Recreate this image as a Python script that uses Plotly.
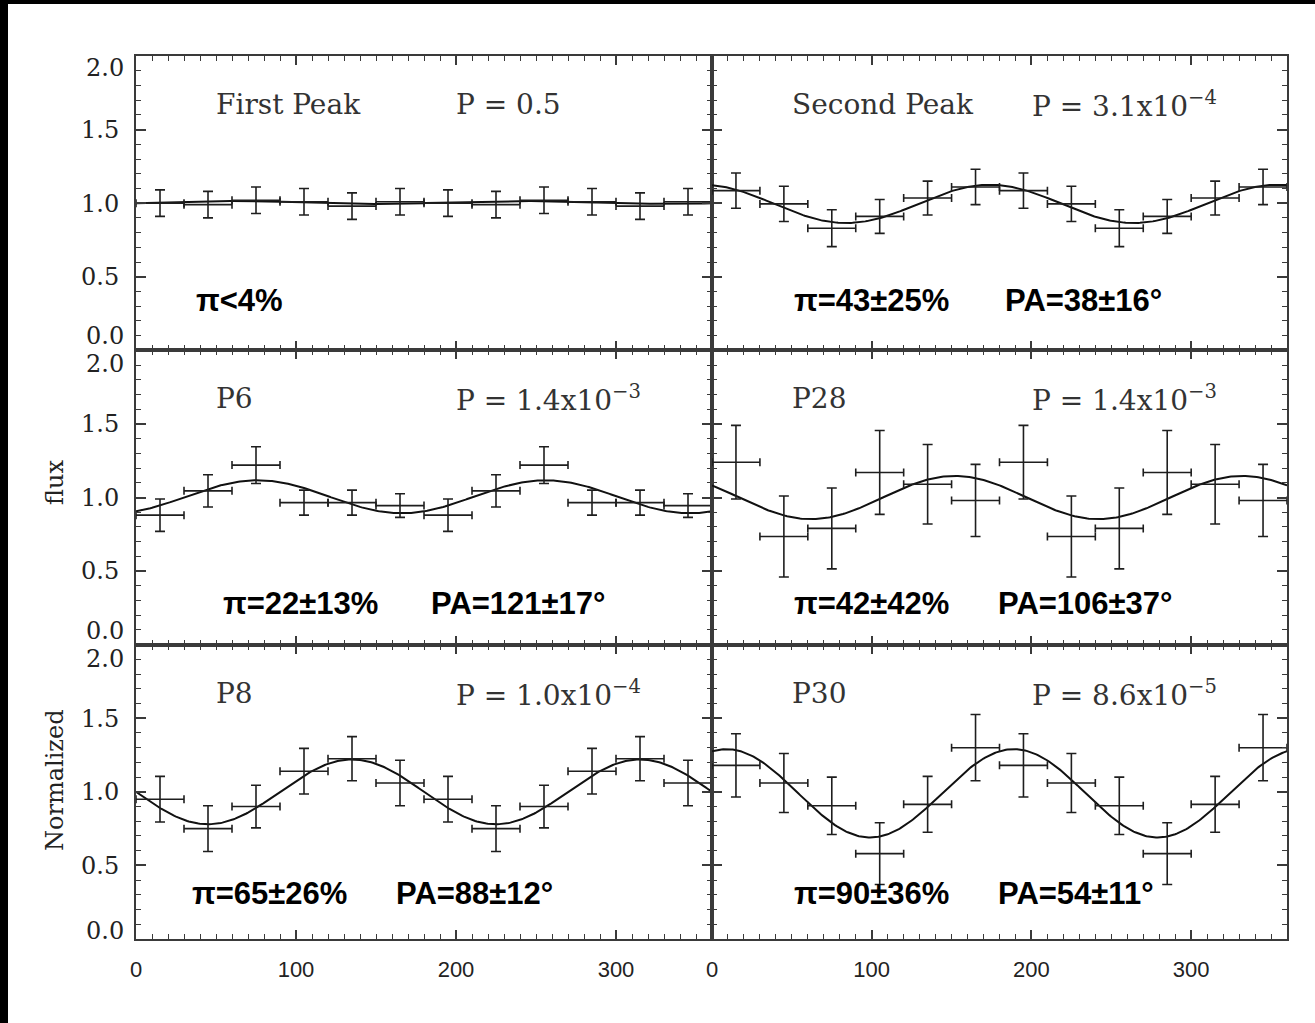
import plotly.graph_objects as go
import numpy as np

# ---------------- data ----------------
phase = [15, 45, 75, 105, 135, 165, 195, 225, 255, 285, 315, 345]
phase_err = [15, 15, 15, 15, 15, 15, 15, 15, 15, 15, 15, 15]

first_flux = [1.00, 0.99, 1.02, 1.01, 0.98, 1.01, 1.00, 0.99, 1.02, 1.01, 0.98, 1.01]
first_err = [0.09, 0.09, 0.09, 0.09, 0.09, 0.09, 0.09, 0.09, 0.09, 0.09, 0.09, 0.09]

second_flux = [1.085, 0.995, 0.83, 0.91, 1.035, 1.11, 1.085, 0.995, 0.83, 0.91, 1.035, 1.11]
second_err = [0.12, 0.12, 0.125, 0.115, 0.115, 0.12, 0.12, 0.12, 0.125, 0.115, 0.115, 0.12]

p6_flux = [0.88, 1.045, 1.22, 0.965, 0.965, 0.945, 0.88, 1.045, 1.22, 0.965, 0.965, 0.945]
p6_err = [0.11, 0.11, 0.125, 0.085, 0.085, 0.08, 0.11, 0.11, 0.125, 0.085, 0.085, 0.08]

p28_flux = [1.24, 0.735, 0.79, 1.17, 1.09, 0.98, 1.24, 0.735, 0.79, 1.17, 1.09, 0.98]
p28_err = [0.25, 0.275, 0.275, 0.285, 0.27, 0.245, 0.25, 0.275, 0.275, 0.285, 0.27, 0.245]

p8_flux = [0.95, 0.75, 0.90, 1.14, 1.225, 1.06, 0.95, 0.75, 0.90, 1.14, 1.225, 1.06]
p8_err = [0.155, 0.155, 0.145, 0.155, 0.15, 0.155, 0.155, 0.155, 0.145, 0.155, 0.15, 0.155]

p30_flux = [1.18, 1.06, 0.905, 0.58, 0.915, 1.30, 1.18, 1.06, 0.905, 0.58, 0.915, 1.30]
p30_err = [0.215, 0.20, 0.195, 0.21, 0.19, 0.225, 0.215, 0.20, 0.195, 0.21, 0.19, 0.225]

# fitted modulation: mean, amplitude, angle of maximum (deg)
fit_mean = [1.005, 0.995, 1.005, 1.0, 1.0, 0.99]
fit_amp = [0.01, 0.13, 0.112, 0.147, 0.22, 0.30]
fit_peak = [60, 174, 76, 152, 135, 189]

panel_names = ["First Peak", "Second Peak", "P6", "P28", "P8", "P30"]
panel_prob = ["P = 0.5", "P = 3.1x10<sup>−4</sup>", "P = 1.4x10<sup>−3</sup>",
              "P = 1.4x10<sup>−3</sup>", "P = 1.0x10<sup>−4</sup>", "P = 8.6x10<sup>−5</sup>"]
panel_pol = ["π<4%", "π=43±25%", "π=22±13%", "π=42±42%", "π=65±26%", "π=90±36%"]
panel_pa = ["", "PA=38±16°", "PA=121±17°", "PA=106±37°", "PA=88±12°", "PA=54±11°"]

fluxes = [first_flux, second_flux, p6_flux, p28_flux, p8_flux, p30_flux]
errs = [first_err, second_err, p6_err, p28_err, p8_err, p30_err]

xtick_vals = [0, 100, 200, 300]
xtick_text = ["0", "100", "200", "300"]
ytick_vals = [0.0, 0.5, 1.0, 1.5, 2.0]
ytick_text = ["0.0", "0.5", "1.0", "1.5", "2.0"]

# ---------------- layout geometry ----------------
W, H = 1315, 1023
L, R, T, B = 136, 28, 56, 84
pw = W - L - R
ph = H - T - B
xsplit = 576 / pw
col_dom = [[0, xsplit], [xsplit, 1]]
row_dom = [[2 / 3, 1], [1 / 3, 2 / 3], [0, 1 / 3]]

AX = "#3a3a3a"
SERIF = "DejaVu Serif"
BAR = "#1e1e1e"
YFONT = dict(family=SERIF, size=24, color="#222")

fig = go.Figure()
layout = {}
annotations = []

theta = np.linspace(0, 360, 361)

for i in range(6):
    r, c = divmod(i, 2)
    n = i + 1
    xa = "x" if n == 1 else f"x{n}"
    ya = "y" if n == 1 else f"y{n}"
    xkey = "xaxis" if n == 1 else f"xaxis{n}"
    ykey = "yaxis" if n == 1 else f"yaxis{n}"

    # model curve
    curve = fit_mean[i] + fit_amp[i] * np.cos(np.radians(2 * (theta - fit_peak[i])))
    fig.add_trace(go.Scatter(x=theta, y=curve, mode="lines",
                             line=dict(color="#111", width=2),
                             xaxis=xa, yaxis=ya, showlegend=False, hoverinfo="skip"))
    # data with error bars
    fig.add_trace(go.Scatter(
        x=phase, y=fluxes[i], mode="markers",
        marker=dict(size=1, color="rgba(0,0,0,0)"),
        error_x=dict(type="data", array=phase_err, visible=True, color=BAR, thickness=1.6, width=4),
        error_y=dict(type="data", array=errs[i], visible=True, color=BAR, thickness=1.6, width=5),
        xaxis=xa, yaxis=ya, showlegend=False))

    layout[xkey] = dict(
        domain=col_dom[c], range=[0, 360], anchor=ya,
        showline=True, linecolor=AX, linewidth=2, mirror="allticks",
        ticks="inside", ticklen=9, tickwidth=1.5, tickcolor=AX,
        tickmode="array", tickvals=xtick_vals, ticktext=xtick_text,
        showticklabels=(r == 2),
        tickfont=dict(family="Liberation Sans", size=22, color="#222"),
        ticklabelstandoff=10,
        minor=dict(dtick=10, tick0=0, ticks="inside", ticklen=5, tickwidth=1.2, tickcolor=AX),
        showgrid=False, zeroline=False, fixedrange=True)
    layout[ykey] = dict(
        domain=row_dom[r], range=[0, 2], anchor=xa,
        showline=True, linecolor=AX, linewidth=2, mirror="allticks",
        ticks="inside", ticklen=10, tickwidth=1.5, tickcolor=AX,
        tickmode="array", tickvals=ytick_vals[1:4], ticktext=ytick_text[1:4],
        showticklabels=(c == 0),
        tickfont=YFONT,
        ticklabelstandoff=10,
        minor=dict(dtick=0.1, tick0=0, ticks="inside", ticklen=5, tickwidth=1.2, tickcolor=AX),
        showgrid=False, zeroline=False, fixedrange=True)

    # edge y tick labels (0.0 and 2.0) moved inside the row
    if c == 0:
        annotations.append(dict(x=0, xref="paper", y=ytick_vals[0], yref=ya, text=ytick_text[0],
                                xanchor="right", yanchor="middle", xshift=-11,
                                yshift=(8 if r == 2 else 14), showarrow=False, borderpad=0,
                                font=YFONT))
        annotations.append(dict(x=0, xref="paper", y=ytick_vals[4], yref=ya, text=ytick_text[4],
                                xanchor="right", yanchor="middle", xshift=-11,
                                yshift=(-12 if r == 0 else -14), showarrow=False, borderpad=0,
                                font=YFONT))

    # panel titles
    annotations.append(dict(x=49, y=1.67, xref=xa, yref=ya, text=panel_names[i],
                            xanchor="left", yanchor="middle", showarrow=False,
                            font=dict(family=SERIF, size=28, color="#333")))
    annotations.append(dict(x=199, y=1.67, xref=xa, yref=ya, text=panel_prob[i],
                            xanchor="left", yanchor="middle", showarrow=False,
                            font=dict(family=SERIF, size=28, color="#333")))

pol_pos = [(36, 0.34), (50, 0.34), (53, 0.28), (50, 0.28), (34, 0.31), (50, 0.31)]
pa_pos = [(182, 0.34), (182, 0.34), (183, 0.28), (178, 0.28), (161, 0.31), (178, 0.31)]
for i in range(6):
    n = i + 1
    xa = "x" if n == 1 else f"x{n}"
    ya = "y" if n == 1 else f"y{n}"
    annotations.append(dict(x=pol_pos[i][0], y=pol_pos[i][1], xref=xa, yref=ya, text="<b>" + panel_pol[i] + "</b>",
                            xanchor="left", yanchor="middle", showarrow=False,
                            font=dict(family="Liberation Sans", size=31, color="#000")))
    if panel_pa[i]:
        annotations.append(dict(x=pa_pos[i][0], y=pa_pos[i][1], xref=xa, yref=ya, text="<b>" + panel_pa[i] + "</b>",
                                xanchor="left", yanchor="middle", showarrow=False,
                                font=dict(family="Liberation Sans", size=31, color="#000")))

# y-axis titles
annotations.append(dict(x=(55 - L) / pw, y=(H - B - 483) / ph, xref="paper", yref="paper",
                        xanchor="center", yanchor="middle",
                        text="flux", textangle=-90, showarrow=False,
                        font=dict(family=SERIF, size=24, color="#222")))
annotations.append(dict(x=(55 - L) / pw, y=(H - B - 780) / ph, xref="paper", yref="paper",
                        xanchor="center", yanchor="middle",
                        text="Normalized", textangle=-90, showarrow=False,
                        font=dict(family=SERIF, size=24, color="#222")))

# black frame strips of the original image
shapes = [
    dict(type="rect", xref="paper", yref="paper", x0=-L / pw, x1=(8 - L) / pw,
         y0=-B / ph, y1=(H - B) / ph, fillcolor="black", line=dict(width=0), layer="above"),
    dict(type="rect", xref="paper", yref="paper", x0=-L / pw, x1=(W - L) / pw,
         y0=(H - B - 4) / ph, y1=(H - B) / ph, fillcolor="black", line=dict(width=0), layer="above"),
]

fig.update_layout(
    width=W, height=H,
    margin=dict(l=L, r=R, t=T, b=B, pad=0),
    paper_bgcolor="white", plot_bgcolor="white",
    annotations=annotations, shapes=shapes,
    **layout)

fig.write_html("out.html",
               config={"displayModeBar": False},
               post_script="document.body.style.margin='0';document.body.style.overflow='hidden';")
